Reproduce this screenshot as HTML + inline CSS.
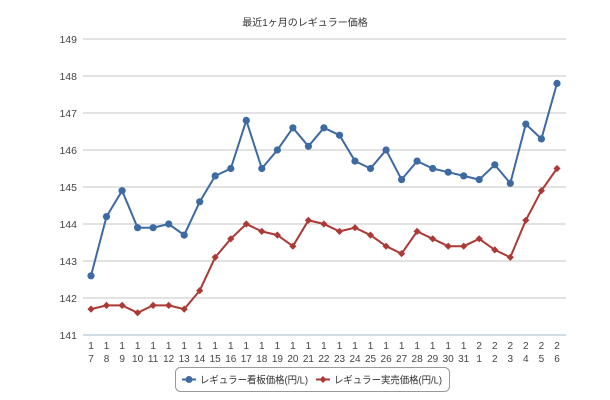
<!DOCTYPE html>
<html><head><meta charset="utf-8"><style>
body{margin:0;background:#fff;}
svg{display:block;font-family:"Liberation Sans","Noto Sans CJK JP",sans-serif;}
</style></head><body>
<svg width="610" height="400" viewBox="0 0 610 400" xmlns="http://www.w3.org/2000/svg">
<defs>
<marker id="c" viewBox="-5 -5 10 10" markerWidth="10" markerHeight="10" markerUnits="userSpaceOnUse" refX="0" refY="0"><circle r="3.6" fill="#3d6aa3"/></marker>
<marker id="d" viewBox="-5 -5 10 10" markerWidth="10" markerHeight="10" markerUnits="userSpaceOnUse" refX="0" refY="0"><path d="M0,-3.6L3.6,0L0,3.6L-3.6,0Z" fill="#ab3a36"/></marker>
</defs>
<text x="305" y="26" font-size="10" fill="#333" text-anchor="middle">最近1ヶ月のレギュラー価格</text>
<g stroke="#d8d8d8" stroke-width="1.5">
<line x1="83" y1="39" x2="566" y2="39"/><line x1="83" y1="76" x2="566" y2="76"/>
<line x1="83" y1="113" x2="566" y2="113"/><line x1="83" y1="150" x2="566" y2="150"/>
<line x1="83" y1="187" x2="566" y2="187"/><line x1="83" y1="224" x2="566" y2="224"/>
<line x1="83" y1="261" x2="566" y2="261"/><line x1="83" y1="298" x2="566" y2="298"/>
</g>
<line x1="83" y1="335" x2="566" y2="335" stroke="#c0d0e0" stroke-width="1.5"/>
<g font-size="10.5" fill="#444" text-anchor="end">
<text x="77" y="43">149</text><text x="77" y="80">148</text><text x="77" y="117">147</text>
<text x="77" y="154">146</text><text x="77" y="191">145</text><text x="77" y="228">144</text>
<text x="77" y="265">143</text><text x="77" y="302">142</text><text x="77" y="339">141</text>
</g>
<polyline fill="none" stroke="#3d6aa3" stroke-width="2" marker-start="url(#c)" marker-mid="url(#c)" marker-end="url(#c)" points="91,275.8 106.5,216.6 122.1,190.7 137.6,227.7 153.1,227.7 168.7,224 184.2,235.1 199.7,201.8 215.2,175.9 230.8,168.5 246.3,120.4 261.8,168.5 277.4,150 292.9,127.8 308.4,146.3 323.9,127.8 339.5,135.2 355,161.1 370.5,168.5 386.1,150 401.6,179.6 417.1,161.1 432.7,168.5 448.2,172.2 463.7,175.9 479.2,179.6 494.8,164.8 510.3,183.3 525.8,124.1 541.4,138.9 557,83.4"/>
<polyline fill="none" stroke="#ab3a36" stroke-width="2" marker-start="url(#d)" marker-mid="url(#d)" marker-end="url(#d)" points="91,309.1 106.5,305.4 122.1,305.4 137.6,312.8 153.1,305.4 168.7,305.4 184.2,309.1 199.7,290.6 215.2,257.3 230.8,238.8 246.3,224 261.8,231.4 277.4,235.1 292.9,246.2 308.4,220.3 323.9,224 339.5,231.4 355,227.7 370.5,235.1 386.1,246.2 401.6,253.6 417.1,231.4 432.7,238.8 448.2,246.2 463.7,246.2 479.2,238.8 494.8,249.9 510.3,257.3 525.8,220.3 541.4,190.7 557,168.5"/>
<g font-size="10" fill="#444" text-anchor="middle">
<text y="349"><tspan x="91">1</tspan><tspan x="106.5">1</tspan><tspan x="122.1">1</tspan><tspan x="137.6">1</tspan><tspan x="153.1">1</tspan><tspan x="168.7">1</tspan><tspan x="184.2">1</tspan><tspan x="199.7">1</tspan><tspan x="215.2">1</tspan><tspan x="230.8">1</tspan><tspan x="246.3">1</tspan><tspan x="261.8">1</tspan><tspan x="277.4">1</tspan><tspan x="292.9">1</tspan><tspan x="308.4">1</tspan><tspan x="323.9">1</tspan><tspan x="339.5">1</tspan><tspan x="355">1</tspan><tspan x="370.5">1</tspan><tspan x="386.1">1</tspan><tspan x="401.6">1</tspan><tspan x="417.1">1</tspan><tspan x="432.7">1</tspan><tspan x="448.2">1</tspan><tspan x="463.7">1</tspan><tspan x="479.2">2</tspan><tspan x="494.8">2</tspan><tspan x="510.3">2</tspan><tspan x="525.8">2</tspan><tspan x="541.4">2</tspan><tspan x="557">2</tspan></text>
<text y="362"><tspan x="91">7</tspan><tspan x="106.5">8</tspan><tspan x="122.1">9</tspan><tspan x="137.6">10</tspan><tspan x="153.1">11</tspan><tspan x="168.7">12</tspan><tspan x="184.2">13</tspan><tspan x="199.7">14</tspan><tspan x="215.2">15</tspan><tspan x="230.8">16</tspan><tspan x="246.3">17</tspan><tspan x="261.8">18</tspan><tspan x="277.4">19</tspan><tspan x="292.9">20</tspan><tspan x="308.4">21</tspan><tspan x="323.9">22</tspan><tspan x="339.5">23</tspan><tspan x="355">24</tspan><tspan x="370.5">25</tspan><tspan x="386.1">26</tspan><tspan x="401.6">27</tspan><tspan x="417.1">28</tspan><tspan x="432.7">29</tspan><tspan x="448.2">30</tspan><tspan x="463.7">31</tspan><tspan x="479.2">1</tspan><tspan x="494.8">2</tspan><tspan x="510.3">3</tspan><tspan x="525.8">4</tspan><tspan x="541.4">5</tspan><tspan x="557">6</tspan></text>
</g>
<rect x="175.5" y="367.5" width="274" height="24" rx="5" fill="#fff" stroke="#999"/>
<line x1="182" y1="379.5" x2="196" y2="379.5" stroke="#3d6aa3" stroke-width="2"/><circle cx="189" cy="379.5" r="3.5" fill="#3d6aa3"/>
<text x="200" y="383.5" font-size="10" fill="#333" textLength="108" lengthAdjust="spacingAndGlyphs">レギュラー看板価格(円/L)</text>
<line x1="316" y1="379.5" x2="330" y2="379.5" stroke="#ab3a36" stroke-width="2"/><path d="M323,376L326.5,379.5L323,383L319.5,379.5Z" fill="#ab3a36"/>
<text x="334" y="383.5" font-size="10" fill="#333" textLength="108" lengthAdjust="spacingAndGlyphs">レギュラー実売価格(円/L)</text>
</svg>
</body></html>
